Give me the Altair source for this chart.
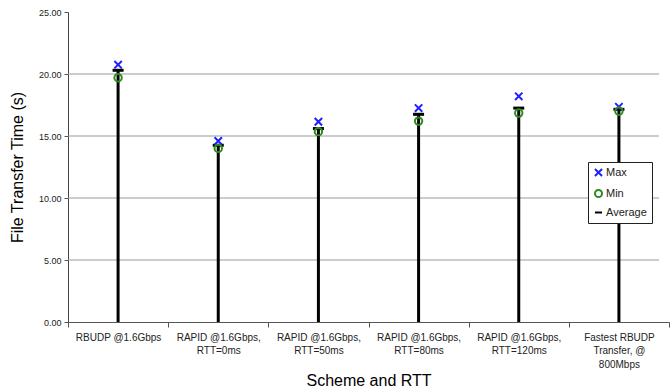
import altair as alt
import pandas as pd

# Transfer schemes (use "|" for line breaks in axis labels)
schemes = [
    "RBUDP @1.6Gbps",
    "RAPID @1.6Gbps,|RTT=0ms",
    "RAPID @1.6Gbps,|RTT=50ms",
    "RAPID @1.6Gbps,|RTT=80ms",
    "RAPID @1.6Gbps,|RTT=120ms",
    "Fastest RBUDP|Transfer, @|800Mbps",
]
max_times = [20.75, 14.6, 16.15, 17.25, 18.2, 17.35]
min_times = [19.7, 14.0, 15.35, 16.2, 16.85, 17.0]
avg_times = [20.3, 14.25, 15.6, 16.75, 17.25, 17.15]
grid_levels = [5, 10, 15, 20]

series_names = ["Max", "Min", "Average"]
series_colors = ["#1f1fff", "#2e8b1e", "#000000"]
x_path = "M-1,-1L1,1M-1,1L1,-1"
series_shapes = [x_path, "circle", "stroke"]

stems = pd.DataFrame({"scheme": schemes, "avg": avg_times})
grid_df = pd.DataFrame({"level": grid_levels})

rows = []
for name, vals in zip(series_names[:2], [max_times, min_times]):
    for s, v in zip(schemes, vals):
        rows.append({"scheme": s, "series": name, "time": v})
points_df = pd.DataFrame(rows)

font = "Liberation Sans"

x_enc = alt.X(
    "scheme:N",
    sort=schemes,
    title="Scheme and RTT",
    scale=alt.Scale(paddingInner=0, paddingOuter=0),
    axis=alt.Axis(
        labelAngle=0,
        labelExpr="split(datum.label, '|')",
        tickBand="extent",
        tickSize=5,
        tickColor="#555",
        domainColor="#555",
        labelFont=font,
        labelFontSize=10,
        labelColor="#222",
        labelPadding=5,
        labelLineHeight=13.5,
        titleFont=font,
        titleFontSize=16,
        titleFontWeight="normal",
        titlePadding=3,
    ),
)

y_scale = alt.Scale(domain=[0, 25], nice=False)
y_axis = alt.Axis(
    values=[0, 5, 10, 15, 20, 25],
    format=".2f",
    title="File Transfer Time (s)",
    grid=False,
    tickSize=4,
    tickColor="#555",
    domainColor="#444",
    labelFont=font,
    labelFontSize=9,
    labelColor="#222",
    labelPadding=3,
    titleFont=font,
    titleFontSize=16,
    titleFontWeight="normal",
    titlePadding=13,
)

grid_layer = alt.Chart(grid_df).mark_rule(color="#999999", strokeWidth=1).encode(
    y=alt.Y("level:Q", scale=y_scale, axis=y_axis),
    x=alt.value(0),
    x2=alt.value(591),
)

stem_layer = alt.Chart(stems).mark_rule(color="black", strokeWidth=3).encode(
    x=x_enc,
    y=alt.Y("avg:Q", scale=y_scale),
    y2=alt.datum(0),
)

avg_layer = alt.Chart(stems).mark_tick(
    color="black", orient="horizontal", size=11, thickness=3, opacity=1
).encode(
    x=alt.X("scheme:N", sort=schemes),
    y=alt.Y("avg:Q", scale=y_scale),
)

point_layer = alt.Chart(points_df).mark_point(filled=False, strokeWidth=2, opacity=1, size=55).encode(
    x=alt.X("scheme:N", sort=schemes),
    y=alt.Y("time:Q", scale=y_scale),
    color=alt.Color(
        "series:N",
        scale=alt.Scale(domain=series_names, range=series_colors),
        legend=alt.Legend(
            title=None,
            orient="none",
            legendX=520,
            legendY=150,
            strokeColor="#222",
            fillColor="white",
            padding=5,
            rowPadding=4,
            labelFont=font,
            labelFontSize=11,
            labelColor="#222",
            symbolSize=50,
            symbolStrokeWidth=2,
            labelOffset=2,
        ),
    ),
    shape=alt.Shape(
        "series:N",
        scale=alt.Scale(domain=series_names, range=series_shapes),
    ),
)

chart = (
    alt.layer(grid_layer, stem_layer, avg_layer, point_layer)
    .properties(
        width=601,
        height=310,
        autosize=alt.AutoSizeParams(type="none"),
        padding={"left": 68, "top": 12, "right": 3, "bottom": 70},
        background="white",
    )
    .configure_view(stroke=None)
)

chart.save("out.html", embed_options={"renderer": "svg", "actions": False})
